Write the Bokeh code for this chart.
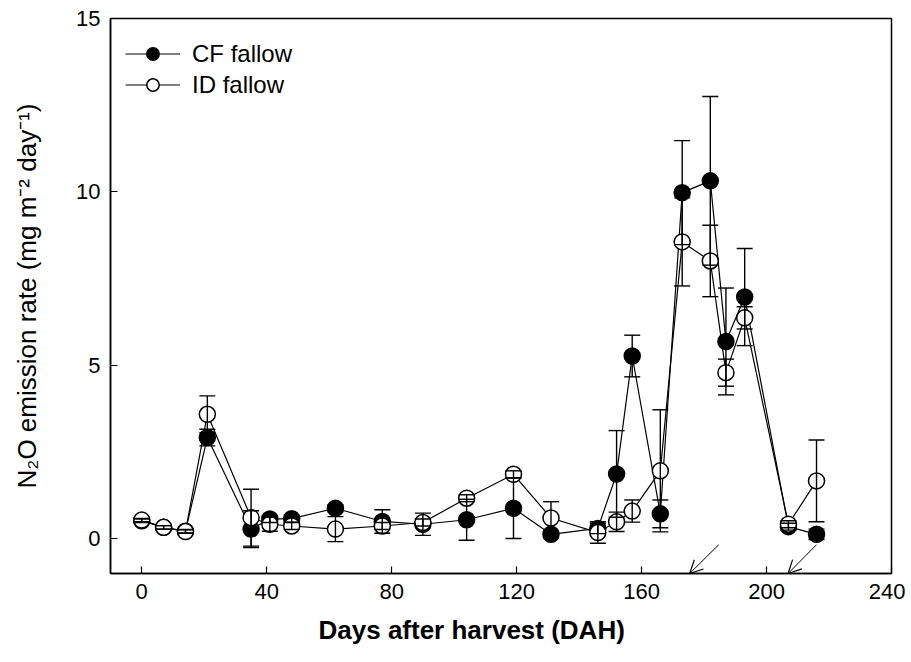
from bokeh.plotting import figure
from bokeh.models import (Range1d, ColumnDataSource, Whisker, TeeHead, Legend, LegendItem,
                          Arrow, OpenHead, Title, FixedTicker)
from bokeh.embed import file_html
from bokeh.resources import INLINE

# ---- data ----
days = [0, 7, 14, 21, 35, 41, 48, 62, 77, 90, 104, 119, 131, 146, 152, 157, 166, 173, 182, 187, 193, 207, 216]
cf_mean = [0.52, 0.33, 0.22, 2.92, 0.28, 0.57, 0.58, 0.88, 0.50, 0.42, 0.55, 0.88, 0.13, 0.30, 1.87, 5.27, 0.72,
           9.98, 10.32, 5.69, 6.97, 0.35, 0.13]
cf_err = [0.05, 0.05, 0.05, 0.24, 0.53, 0.10, 0.10, 0.10, 0.34, 0.32, 0.59, 0.87, 0.10, 0.15, 1.25, 0.60, 0.40,
          1.50, 2.43, 1.54, 1.40, 0.10, 0.15]
id_mean = [0.54, 0.33, 0.21, 3.59, 0.61, 0.42, 0.37, 0.28, 0.37, 0.47, 1.17, 1.86, 0.60, 0.18, 0.49, 0.80, 1.96,
           8.56, 8.01, 4.79, 6.37, 0.42, 1.67]
id_err = [0.05, 0.05, 0.05, 0.53, 0.82, 0.20, 0.10, 0.36, 0.10, 0.10, 0.10, 0.10, 0.47, 0.31, 0.28, 0.32, 1.76,
          1.27, 1.03, 0.39, 0.32, 0.10, 1.18]
series_names = ["CF fallow", "ID fallow"]
x_ticks = [0, 40, 80, 120, 160, 200, 240]
y_ticks = [0, 5, 10, 15]
# arrows marking events (start -> end, data units)
arrow_x_start = [184.7, 216.0]
arrow_y_start = [-0.17, -0.17]
arrow_x_end = [175.4, 206.9]
arrow_y_end = [-1.0, -1.0]

FONT = "Liberation Sans"

p = figure(width=905, height=662, x_range=Range1d(-10, 240), y_range=Range1d(-1, 15),
           output_backend="svg", toolbar_location=None,
           min_border_left=110, min_border_right=14, min_border_top=18, min_border_bottom=89)
p.xgrid.visible = False
p.ygrid.visible = False
p.outline_line_color = "black"
p.outline_line_width = 1.5
p.background_fill_color = "white"
p.border_fill_color = "white"

for ax in (p.xaxis[0], p.yaxis[0]):
    ax.axis_line_width = 1.5
    ax.axis_line_color = "black"
    ax.major_tick_in = 7
    ax.major_tick_out = 0
    ax.major_tick_line_width = 1.2
    ax.minor_tick_in = 0
    ax.minor_tick_out = 0
    ax.major_label_text_font = FONT
    ax.major_label_text_font_size = "22px"
    ax.major_label_text_color = "black"
    ax.major_label_standoff = 10

p.xaxis.ticker = FixedTicker(ticks=x_ticks)
p.yaxis.ticker = FixedTicker(ticks=y_ticks)

p.yaxis.axis_label = "N\u2082O emission rate (mg m\u207b\u00b2 day\u207b\u00b9)"
p.yaxis.axis_label_text_font = FONT
p.yaxis.axis_label_text_font_size = "26px"
p.yaxis.axis_label_text_font_style = "normal"
p.yaxis.axis_label_text_color = "black"
p.yaxis.axis_label_standoff = 31

# x-axis title (slightly left of centre as in the original)
p.add_layout(Title(text="Days after harvest (DAH)", align="left", offset=208, standoff=22,
                   text_font=FONT, text_font_size="26px", text_font_style="bold",
                   text_color="black"), "below")

cf_src = ColumnDataSource(dict(x=days, y=cf_mean,
                               lo=[m - e for m, e in zip(cf_mean, cf_err)],
                               hi=[m + e for m, e in zip(cf_mean, cf_err)]))
id_src = ColumnDataSource(dict(x=days, y=id_mean,
                               lo=[m - e for m, e in zip(id_mean, id_err)],
                               hi=[m + e for m, e in zip(id_mean, id_err)]))

renderers = []
for src, fill in ((cf_src, "black"), (id_src, "white")):
    w = Whisker(source=src, base="x", upper="hi", lower="lo", line_color="black", line_width=1.4,
                upper_head=TeeHead(size=16, line_width=1.4, line_color="black"),
                lower_head=TeeHead(size=16, line_width=1.4, line_color="black"),
                level="glyph")
    p.add_layout(w)
    ln = p.line("x", "y", source=src, line_color="black", line_width=1.2)
    sc = p.scatter("x", "y", source=src, size=16, fill_color=fill, line_color="black", line_width=1.5)
    renderers.append((ln, sc))

legend = Legend(items=[LegendItem(label=series_names[i], renderers=list(renderers[i])) for i in range(2)],
                location=(15, 473), border_line_alpha=0, background_fill_alpha=0,
                label_text_font=FONT, label_text_font_size="24px", label_text_color="black",
                glyph_width=55, glyph_height=31, label_height=31, spacing=0, padding=0, margin=0,
                label_standoff=12)
p.add_layout(legend)

for xs, ys, xe, ye in zip(arrow_x_start, arrow_y_start, arrow_x_end, arrow_y_end):
    p.add_layout(Arrow(x_start=xs, y_start=ys, x_end=xe, y_end=ye, line_color="black", line_width=1,
                       end=OpenHead(size=13, line_width=1.2, line_color="black")))

open("out.html", "w").write(file_html(p, INLINE))
